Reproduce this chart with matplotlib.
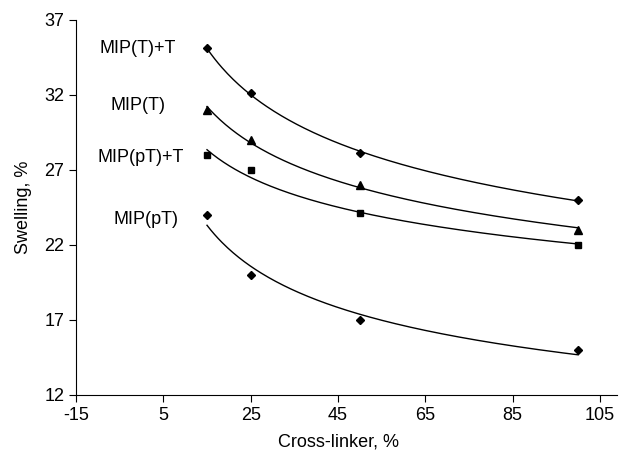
import numpy as np
import matplotlib
matplotlib.use("Agg")
import matplotlib.pyplot as plt

plt.rcParams["font.family"] = ["Liberation Sans", "DejaVu Sans"]
plt.rcParams["axes.unicode_minus"] = False

crosslinker = [15, 25, 50, 100]
series_names = ["MIP(T)+T", "MIP(T)", "MIP(pT)+T", "MIP(pT)"]
mip_t_t = [35.1, 32.1, 28.1, 25.0]
mip_t = [31.0, 29.0, 26.0, 23.0]
mip_pt_t = [28.0, 27.0, 24.1, 22.0]
mip_pt = [24.0, 20.0, 17.0, 15.0]
label_x = [-0.9, -0.9, -0.3, 1.0]
label_y = [35.13, 31.27, 27.8, 23.73]

markers = ["D", "^", "s", "D"]
msizes = [4, 6, 5, 4.5]

fig = plt.figure(figsize=(6.21, 4.58), dpi=100)
ax = fig.add_axes([0.1224, 0.1376, 0.8438, 0.8188])

x = np.array(crosslinker, dtype=float)
xs = np.linspace(x.min(), x.max(), 200)
for vals, name, m, ms, lx, ly in zip([mip_t_t, mip_t, mip_pt_t, mip_pt],
                                     series_names, markers, msizes, label_x, label_y):
    y = np.array(vals)
    # power trend line, like the spreadsheet fit
    b, lna = np.polyfit(np.log(x), np.log(y), 1)
    ax.plot(xs, np.exp(lna) * xs ** b, color="black", linewidth=1.0)
    ax.plot(x, y, linestyle="none", marker=m, markersize=ms, color="black")
    ax.text(lx, ly, name, ha="center", va="center", fontsize=13)

ax.set_xlim(-15, 105)
ax.set_ylim(12, 37)
ax.set_xticks(np.arange(-15, 106, 20))
ax.set_yticks(np.arange(12, 38, 5))
ax.spines["top"].set_visible(False)
ax.spines["right"].set_visible(False)
ax.spines["bottom"].set_bounds(-15, 109)
ax.tick_params(direction="out", length=5, labelsize=13)
ax.set_xlabel("Cross-linker, %", fontsize=13, labelpad=7)
ax.set_ylabel("Swelling, %", fontsize=13, labelpad=9)

plt.savefig("out.png", dpi=100)
